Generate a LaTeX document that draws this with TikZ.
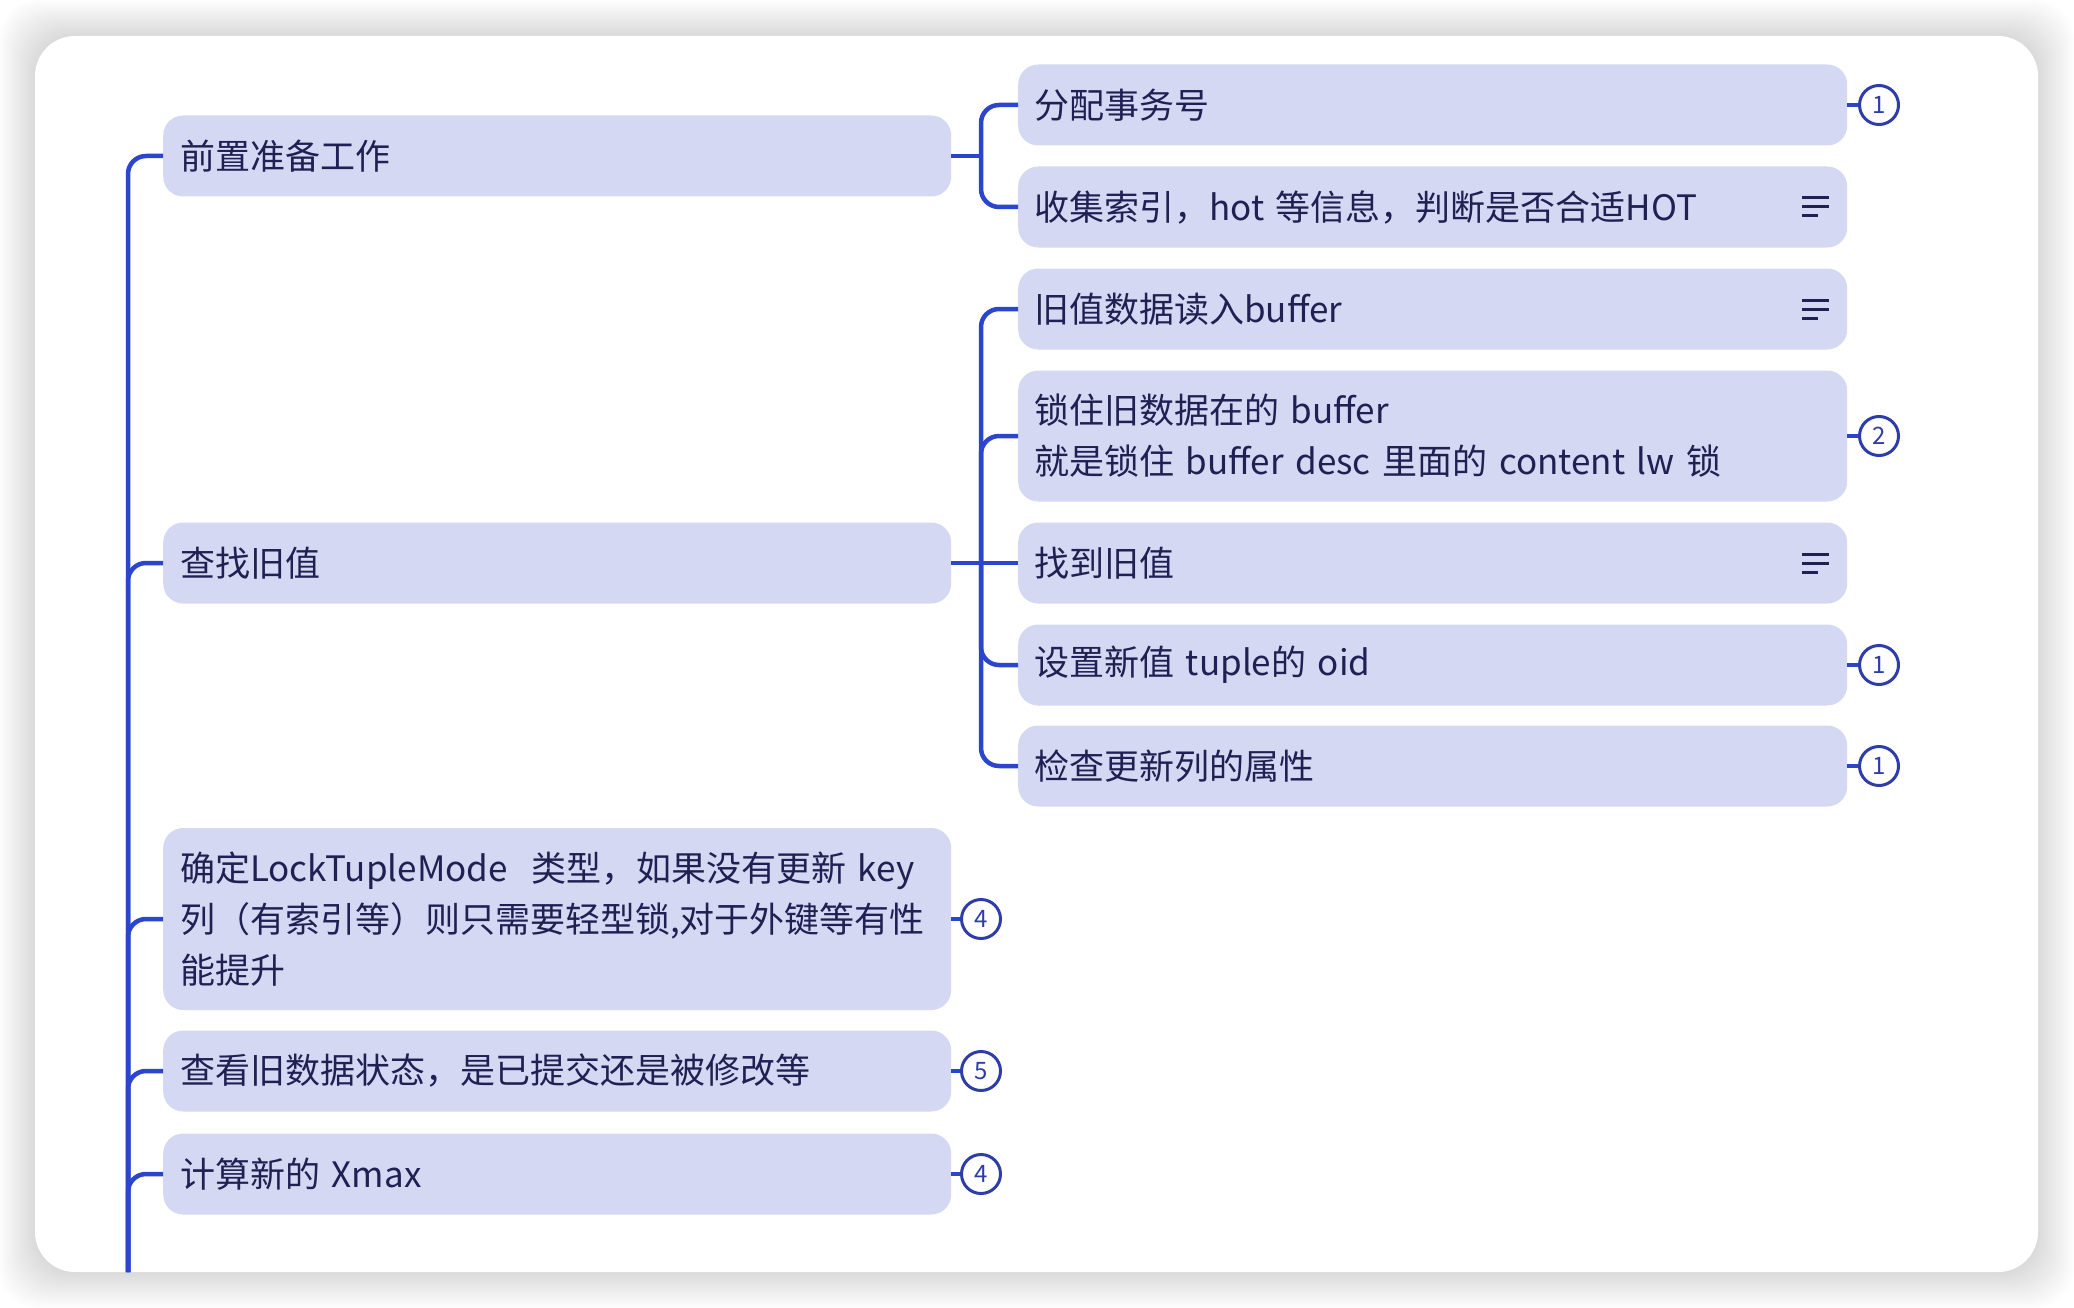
\documentclass[tikz,border=0pt]{standalone}
\usepackage{fontspec}
\setmainfont{Noto Sans CJK SC}
\usetikzlibrary{calc}

\definecolor{boxfill}{HTML}{D5D8F3}
\definecolor{linkblue}{HTML}{2B45CC}
\definecolor{badgeblue}{HTML}{2E3DA8}
\definecolor{ink}{HTML}{1E2152}

\begin{document}
\begin{tikzpicture}[x=1pt, y=-1pt,
    box/.style={fill=boxfill, rounded corners=20pt, anchor=west, inner xsep=17pt, inner ysep=4pt,
      minimum height=81pt, align=left, text=ink, font=\fontsize{35}{51}\selectfont},
    lbox/.style={box, text width=754pt},
    rbox/.style={box, inner xsep=16pt, text width=797pt},
    link/.style={draw=linkblue, line width=4.5pt},
    elbow/.style={link, rounded corners=18pt},
    badge/.style={circle, draw=badgeblue, line width=3pt, fill=white, minimum size=39pt,
      inner sep=0pt, text=badgeblue, font=\fontsize{24}{24}\selectfont},
    note/.style={draw=ink, line width=3pt}]
      \useasboundingbox (0,0) rectangle (2074,1308);
      \fill[white] (0,0) rectangle (2074,1308);
      \foreach \s in {2,4,...,36}
        \fill[black, opacity=0.009, rounded corners=40pt] (35-\s,36-\s) rectangle (2038+\s,1272+\s);
      \fill[white, rounded corners=40pt] (35,36) rectangle (2038,1272);

      \node[lbox] (prep) at (163,156) {前置准备工作};
      \node[lbox] (find) at (163,563) {查找旧值};
      \node[lbox, minimum height=182pt] (mode) at (163,919)
        {确定LockTupleMode~~类型，如果没有更新 key\\列（有索引等）则只需要轻型锁,对于外键等有性\\能提升};
      \node[lbox] (state) at (163,1071) {查看旧数据状态，是已提交还是被修改等};
      \node[lbox] (xmax) at (163,1174) {计算新的 Xmax};

      \node[rbox] (xid) at (1018,105) {分配事务号};
      \node[rbox] (hot) at (1018,207) {收集索引，hot 等信息，判断是否合适HOT};
      \node[rbox] (read) at (1018,309) {旧值数据读入buffer};
      \node[rbox, minimum height=131pt] (lock) at (1018,436)
        {锁住旧数据在的 buffer\\就是锁住 buffer desc 里面的 content lw 锁};
      \node[rbox] (found) at (1018,563) {找到旧值};
      \node[rbox] (oid) at (1018,665) {设置新值 tuple的 oid};
      \node[rbox] (attr) at (1018,766) {检查更新列的属性};

      \coordinate (root) at (128,1272);
      \coordinate (jprep) at (981,156);
      \coordinate (jfind) at (981,563);

      \draw[elbow] (root) |- (prep.west);
      \draw[elbow] (root) |- (find.west);
      \draw[elbow] (root) |- (mode.west);
      \draw[elbow] (root) |- (state.west);
      \draw[elbow] (root) |- (xmax.west);

      \draw[link] (prep.east) -- (jprep);
      \draw[elbow] (jprep) |- (xid.west);
      \draw[elbow] (jprep) |- (hot.west);
      \draw[link] (find.east) -- (found.west);
      \draw[elbow] (jfind) |- (read.west);
      \draw[elbow] (jfind) |- (lock.west);
      \draw[elbow] (jfind) |- (oid.west);
      \draw[elbow] (jfind) |- (attr.west);

      \node[badge] (b1) at (1879,105) {1};
      \node[badge] (b2) at (1879,436) {2};
      \node[badge] (b3) at (1879,665) {1};
      \node[badge] (b4) at (1879,766) {1};
      \node[badge] (b5) at (981,919) {4};
      \node[badge] (b6) at (981,1071) {5};
      \node[badge] (b7) at (981,1174) {4};
      \draw[link] (xid.east) -- (b1);
      \draw[link] (lock.east) -- (b2);
      \draw[link] (oid.east) -- (b3);
      \draw[link] (attr.east) -- (b4);
      \draw[link] (mode.east) -- (b5);
      \draw[link] (state.east) -- (b6);
      \draw[link] (xmax.east) -- (b7);

      \def\noteicon#1{\draw[note] ($(#1.east)+(-45,-9)$) -- ++(27,0)
        ($(#1.east)+(-45,0)$) -- ++(27,0) ($(#1.east)+(-45,9)$) -- ++(16,0);}
      \noteicon{hot}
      \noteicon{read}
      \noteicon{found}

    \end{tikzpicture}
\end{document}
